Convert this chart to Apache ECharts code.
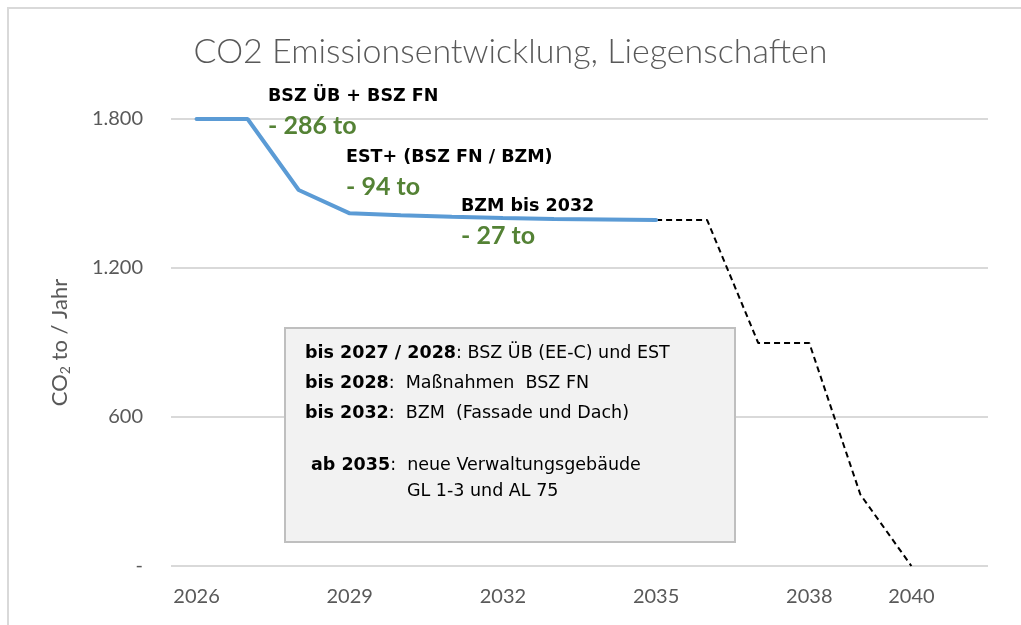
<!DOCTYPE html>
<html>
<head>
<meta charset="utf-8">
<script src="https://cdn.jsdelivr.net/npm/echarts@6/dist/echarts.min.js"></script>
<style>
  html, body { margin: 0; padding: 0; background: #fff; }
  #chart { width: 1021px; height: 625px; }
</style>
</head>
<body>
<div id="chart"></div>
<script>
// years on the category axis
const years = ['2026','2027','2028','2029','2030','2031','2032','2033','2034','2035','2036','2037','2038','2039','2040','2041']
// which years get a label
const shownYears = ['2026','2029','2032','2035','2038','2040']
// CO2 t/year, measures (blue)
const measures = [1800, 1800, 1514, 1420, 1412, 1406, 1401, 1397, 1395, 1393, null, null, null, null, null, null]
// new buildings from 2035 (dashed)
const newBuildings = [null, null, null, null, null, null, null, null, null, 1393, 1393, 898, 898, 288, 0, null]
const yTicks = [0, 600, 1200, 1800]

const chart = echarts.init(document.getElementById('chart'))

const fmt = v => v === 0 ? '-' : String(v).replace(/\B(?=(\d{3})+(?!\d))/g, '.')

const boxLines = [
  { x: 305, y: 355, b: 'bis 2027 / 2028', t: ': BSZ ÜB (EE-C) und EST' },
  { x: 305, y: 385, b: 'bis 2028', t: ':  Maßnahmen  BSZ FN' },
  { x: 305, y: 415, b: 'bis 2032', t: ':  BZM  (Fassade und Dach)' },
  { x: 311, y: 467, b: 'ab 2035', t: ':  neue Verwaltungsgebäude' },
  { x: 407, y: 493, b: '', t: 'GL 1-3 und AL 75' }
]

const graphics = [
  { type: 'rect', shape: { x: 8, y: 8, width: 1040, height: 650 }, style: { fill: null, stroke: '#d9d9d9', lineWidth: 2 }, silent: true },
  { type: 'rect', z: 10, shape: { x: 285, y: 328, width: 450, height: 214 }, style: { fill: '#f2f2f2', stroke: '#bfbfbf', lineWidth: 2 } },
  // step annotations
  { type: 'text', z: 10, left: 268, top: 87, style: { text: 'BSZ ÜB + BSZ FN', font: 'bold 17.5px "DejaVu Sans"', fill: '#000' } },
  { type: 'text', z: 10, left: 268, top: 113, style: { text: '- 286 to', font: 'bold 25px Lato', fill: '#548235' } },
  { type: 'text', z: 10, left: 346, top: 148, style: { text: 'EST+ (BSZ FN / BZM)', font: 'bold 17.5px "DejaVu Sans"', fill: '#000' } },
  { type: 'text', z: 10, left: 346, top: 174, style: { text: '- 94 to', font: 'bold 25px Lato', fill: '#548235' } },
  { type: 'text', z: 10, left: 461, top: 197, style: { text: 'BZM bis 2032', font: 'bold 17.5px "DejaVu Sans"', fill: '#000' } },
  { type: 'text', z: 10, left: 461, top: 223, style: { text: '- 27 to', font: 'bold 25px Lato', fill: '#548235' } }
]

boxLines.forEach(l => {
  graphics.push({
    type: 'text', z: 11, left: l.x, top: l.y - 11,
    style: {
      text: (l.b ? '{b|' + l.b + '}' : '') + '{n|' + l.t + '}',
      rich: {
        b: { font: 'bold 17.5px "DejaVu Sans"', fill: '#000' },
        n: { font: '17.5px "DejaVu Sans"', fill: '#000' }
      }
    }
  })
})

chart.setOption({
  animation: false,
  title: {
    text: 'CO2 Emissionsentwicklung, Liegenschaften',
    left: 'center',
    top: 30,
    textStyle: { fontFamily: 'Lato', fontWeight: 300, fontSize: 34, color: '#595959' }
  },
  grid: { left: 171, right: 33, top: 119, bottom: 59 },
  xAxis: {
    type: 'category',
    data: years,
    boundaryGap: true,
    axisLine: { show: false },
    axisTick: { show: false },
    axisLabel: {
      interval: (i, v) => shownYears.includes(v),
      margin: 21,
      fontFamily: 'Lato',
      fontSize: 20,
      color: '#595959'
    }
  },
  yAxis: {
    type: 'value',
    min: yTicks[0],
    max: yTicks[yTicks.length - 1],
    interval: 600,
    name: 'CO{s|2} to / Jahr',
    nameLocation: 'middle',
    nameRotate: 90,
    nameGap: 99,
    nameTextStyle: {
      fontFamily: 'Lato', fontSize: 22, color: '#595959',
      rich: { s: { fontFamily: 'Lato', fontSize: 14, color: '#595959', verticalAlign: 'bottom', padding: [10, 0, 0, 0] } }
    },
    axisLine: { show: false },
    axisTick: { show: false },
    splitLine: { lineStyle: { color: '#d9d9d9', width: 2 } },
    axisLabel: {
      formatter: fmt,
      margin: 28,
      fontFamily: 'Lato',
      fontSize: 20,
      color: '#595959'
    }
  },
  series: [
    {
      name: 'Maßnahmen',
      type: 'line',
      data: measures,
      symbol: 'none',
      z: 3,
      lineStyle: { color: '#5b9bd5', width: 4, cap: 'round' }
    },
    {
      name: 'Neubau',
      type: 'line',
      data: newBuildings,
      symbol: 'none',
      z: 2,
      lineStyle: { color: '#000', width: 2, type: [6, 4] }
    }
  ],
  graphic: graphics
})
</script>
</body>
</html>
